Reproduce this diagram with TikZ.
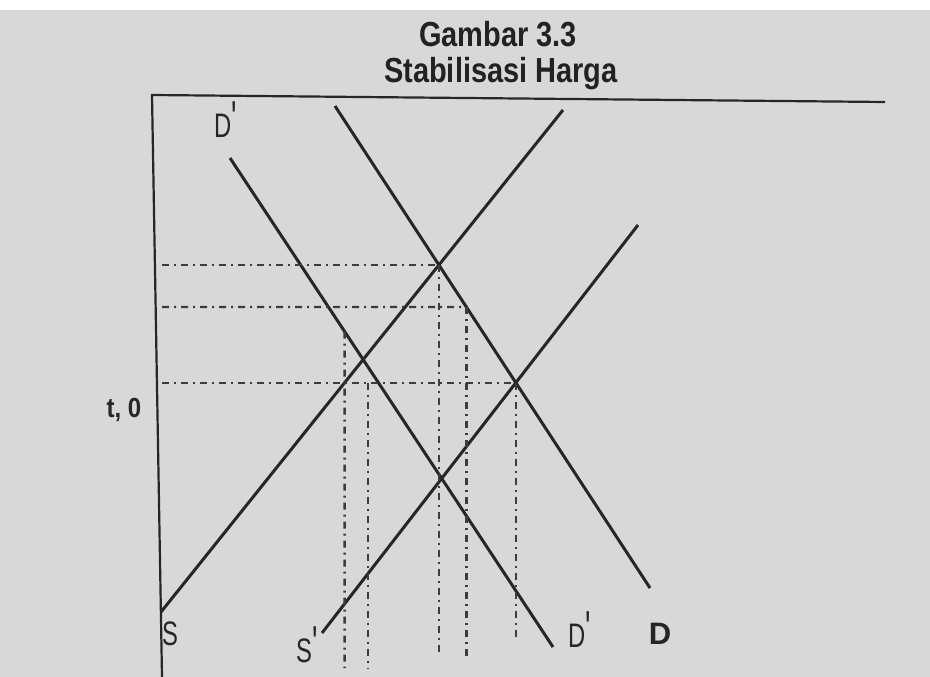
\documentclass[tikz,border=0pt]{standalone}
\usepackage{fontspec}
\setmainfont{Liberation Sans}
\usepackage{graphicx}

\definecolor{kertas}{RGB}{216,216,217}
\definecolor{tinta}{RGB}{38,38,38}
\newcommand{\lab}[1]{\scalebox{0.7}[1]{#1}}
\newcommand{\aksen}{\raisebox{0.08em}{\scalebox{1.2}[1.4]{\textquotesingle}}}

\begin{document}
\begin{tikzpicture}[x=1pt, y=-1pt,
    kurva/.style={line width=3pt, tinta},
    bantu/.style={line width=2.4pt, tinta!90, dash pattern=on 7pt off 5pt on 2pt off 5pt},
    sumbu/.style={line width=2.2pt, tinta},
    lbl/.style={font=\fontsize{34}{36}\selectfont, text=tinta, inner sep=0pt},
    judul/.style={font=\bfseries\fontsize{29}{30}\selectfont, text=tinta!90!black, inner sep=0pt}]
  % kertas
  \useasboundingbox (0,0) rectangle (930,677);
  \fill[white] (0,0) rectangle (930,10);
  \fill[kertas] (0,10) rectangle (930,677);
  % judul
  \node[judul, anchor=base] (judul1) at (498,47) {\scalebox{1}[1.2]{Gambar 3.3}};
  \node[judul, anchor=base] (judul2) at (501,83) {\scalebox{1}[1.2]{Stabilisasi Harga}};
  % sumbu
  \coordinate (O1) at (152,95);
  \coordinate (O2) at (162,677);
  \coordinate (T2) at (885,102);
  \draw[sumbu] (O2) -- (O1) -- (T2);
  % kurva penawaran dan permintaan
  \coordinate (S1) at (161,612);
  \coordinate (S2) at (563,110);
  \coordinate (Sa1) at (322,633);
  \coordinate (Sa2) at (638,225);
  \coordinate (Da1) at (230,158);
  \coordinate (Da2) at (553,647);
  \coordinate (D1) at (335,106);
  \coordinate (D2) at (650,588);
  \draw[kurva] (S1) -- (S2);
  \draw[kurva] (Sa1) -- (Sa2);
  \draw[kurva] (Da1) -- (Da2);
  \draw[kurva] (D1) -- (D2);
  % titik potong
  \coordinate (E1) at (intersection of S1--S2 and D1--D2);
  \coordinate (E3) at (intersection of Sa1--Sa2 and D1--D2);
  % garis bantu horizontal
  \coordinate (kiri) at (162,0);
  \coordinate (H1a) at (kiri |- E1);
  \coordinate (H3a) at (kiri |- E3);
  \coordinate (H2a) at (162,307);
  \coordinate (H2b) at (700,307);
  \coordinate (H2e) at (intersection of H2a--H2b and D1--D2);
  \draw[bantu] (H1a) -- (E1);
  \draw[bantu] (H2a) -- (H2e);
  \draw[bantu] (H3a) -- (E3);
  % garis bantu vertikal
  \coordinate (bawah1) at (0,668);
  \coordinate (bawah2) at (0,655);
  \coordinate (bawah3) at (0,660);
  \coordinate (bawah4) at (0,638);
  \coordinate (P1) at (intersection of S1--S2 and H3a--E3);
  \coordinate (V1b) at (P1 |- bawah1);
  \coordinate (V1t) at (intersection of Da1--Da2 and P1--V1b);
  \coordinate (v2x) at (368,0);
  \coordinate (P2) at (v2x |- E3);
  \draw[bantu] (V1t) -- (V1b);
  \draw[bantu] (P2) -- (P2 |- bawah1);
  \draw[bantu] (E1) -- (E1 |- bawah2);
  \draw[bantu] (H2e) -- (H2e |- bawah3);
  \draw[bantu] (E3) -- (E3 |- bawah4);
  % label
  \node[lbl, font=\bfseries\fontsize{24}{26}\selectfont, anchor=base] (sb) at (124,417) {\scalebox{1}[1.15]{t, 0}};
  \node[lbl, anchor=base west] (lDa1) at (214,137) {\lab{D\aksen}};
  \node[lbl, anchor=base west] (lS) at (162,645) {\lab{S}};
  \node[lbl, anchor=base west] (lSa) at (296,662) {\lab{S\aksen}};
  \node[lbl, anchor=base west] (lDa2) at (568,647) {\lab{D\aksen}};
  \node[lbl, font=\bfseries\fontsize{31}{33}\selectfont, anchor=base] (lD) at (660,644) {D};
\end{tikzpicture}
\end{document}
